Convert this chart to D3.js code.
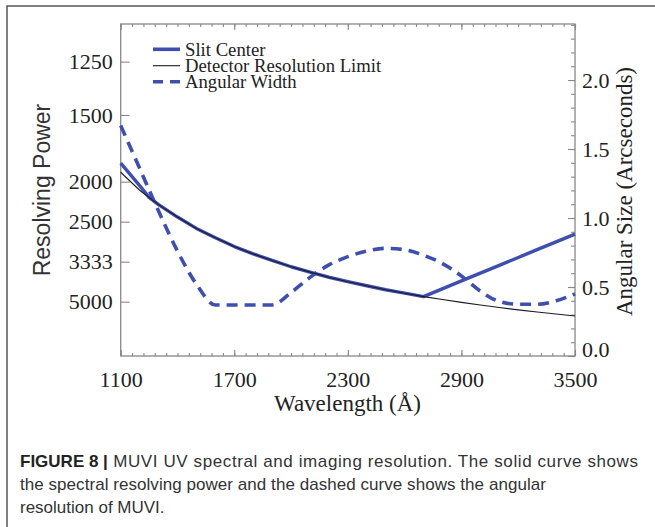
<!DOCTYPE html>
<html><head><meta charset="utf-8">
<script src="https://cdn.jsdelivr.net/npm/d3@7"></script>
<style>
html,body{margin:0;padding:0;background:#fff;}
svg{display:block;}
</style></head><body>
<svg id="c" width="655" height="527"></svg>
<script>
// ---- data ----
const wlTicks = [1100, 1700, 2300, 2900, 3500];
const rpTicks = [1250, 1500, 2000, 2500, 3333, 5000];
const angTicks = [0.0, 0.5, 1.0, 1.5, 2.0];

const detWl = [1100,1200,1300,1400,1500,1600,1700,1800,1900,2000,2100,2200,2300,2400,2500,2600,2700,2800,2900,3000,3100,3200,3300,3400,3500];
const detR  = [1910,2090,2260,2430,2610,2780,2960,3130,3300,3480,3650,3830,4000,4170,4350,4520,4700,4870,5040,5220,5390,5570,5740,5910,6090];

const slitWl = [1100,1200,1250,1300,1400,1500,1600,1700,1800,1900,2000,2100,2200,2300,2400,2500,2600,2700,2900,3100,3300,3500];
const slitR  = [1830,2040,2170,2260,2430,2610,2780,2960,3130,3300,3480,3650,3830,4000,4170,4350,4520,4700,3970,3440,3030,2710];

const angWl  = [1100,1200,1300,1400,1500,1600,1700,1800,1900,2000,2100,2200,2300,2400,2500,2600,2700,2800,2900,3000,3100,3200,3300,3400,3500];
const angVal = [1.67,1.36,1.05,0.76,0.52,0.37,0.37,0.37,0.37,0.46,0.57,0.66,0.72,0.76,0.78,0.77,0.73,0.67,0.58,0.47,0.395,0.375,0.375,0.40,0.45];

const legendLabels = ["Slit Center", "Detector Resolution Limit", "Angular Width"];
const captionBold = "FIGURE 8 |";
const captionLines = [
  " MUVI UV spectral and imaging resolution. The solid curve shows",
  "the spectral resolving power and the dashed curve shows the angular",
  "resolution of MUVI."
];

// ---- layout ----
const svg = d3.select("#c");
const L = 120.7, R = 575, T = 24, B = 356;
const BLUE = "#3e4fae";
const SERIF = "'Liberation Serif','Times New Roman',serif";
const SANS = "'Liberation Sans',Arial,sans-serif";

const x = d3.scaleLinear().domain([1100, 3500]).range([L, R]);
const yInv = d3.scaleLinear().domain([0.0000643, 0.000894]).range([B, T]); // 1/R
const yR = r => yInv(1 / r);
const yA = d3.scaleLinear().domain([0, 2.406]).range([B, T]);

// outer frame
svg.append("path").attr("d", "M7,527V6H655").attr("fill", "none")
  .attr("stroke", "#555").attr("stroke-width", 1.5);

// axes
function styleAxis(g) {
  g.select(".domain").remove();
  g.selectAll(".tick line").attr("stroke", "#888").attr("stroke-width", 1.1);
  g.selectAll(".tick text").attr("fill", "#222").style("font-family", SERIF).style("font-size", "22px");
}
const minorWl = d3.range(1100, 3501, 60);
const minorAng = d3.range(0, 24.1, 1).map(d => d / 10);

svg.append("g").attr("transform", `translate(0,${B})`)
  .call(d3.axisBottom(x).tickValues(minorWl).tickSize(-3).tickFormat("")).call(styleAxis);
svg.append("g").attr("transform", `translate(0,${B})`)
  .call(d3.axisBottom(x).tickValues(wlTicks).tickSize(-6).tickPadding(15).tickFormat(d3.format("d"))).call(styleAxis);
svg.append("g").attr("transform", `translate(0,${T})`)
  .call(d3.axisTop(x).tickValues(minorWl).tickSize(-3).tickFormat("")).call(styleAxis);
svg.append("g").attr("transform", `translate(0,${T})`)
  .call(d3.axisTop(x).tickValues(wlTicks).tickSize(-6).tickFormat("")).call(styleAxis);

svg.append("g").attr("transform", `translate(${L},0)`)
  .call(d3.axisLeft(yInv).tickValues(rpTicks.map(r => 1 / r)).tickSize(-9).tickPadding(8)
    .tickFormat((d, i) => rpTicks[i])).call(styleAxis);

svg.append("g").attr("transform", `translate(${R},0)`)
  .call(d3.axisRight(yA).tickValues(minorAng).tickSize(-4).tickFormat("")).call(styleAxis);
const ra = svg.append("g").attr("transform", `translate(${R},0)`)
  .call(d3.axisRight(yA).tickValues(angTicks).tickSize(-7).tickPadding(7).tickFormat(d3.format(".1f"))).call(styleAxis);
ra.selectAll(".tick text").filter(d => d === 0).attr("dy", "0em");

// plot frame
svg.append("rect").attr("x", L).attr("y", T).attr("width", R - L).attr("height", B - T)
  .attr("fill", "none").attr("stroke", "#888").attr("stroke-width", 1.3);

// curves
const slitLine = d3.line().x((d, i) => x(slitWl[i])).y(d => yR(d));
const detLine = d3.line().x((d, i) => x(detWl[i])).y(d => yR(d));
const angLine = d3.line().x((d, i) => x(angWl[i])).y(d => yA(d)).curve(d3.curveMonotoneX);

svg.append("path").attr("d", angLine(angVal)).attr("fill", "none").attr("stroke", BLUE)
  .attr("stroke-width", 3.6).attr("stroke-dasharray", "11,7");
svg.append("path").attr("d", slitLine(slitR)).attr("fill", "none").attr("stroke", BLUE)
  .attr("stroke-width", 3.4).attr("stroke-linejoin", "round");
svg.append("path").attr("d", detLine(detR)).attr("fill", "none").attr("stroke", "#1a1a2a")
  .attr("stroke-width", 1.1);

// legend
const lg = svg.append("g");
const legY = [49.3, 65.7, 81.7];
lg.append("line").attr("x1", 153).attr("x2", 180).attr("y1", legY[0]).attr("y2", legY[0])
  .attr("stroke", BLUE).attr("stroke-width", 3.6);
lg.append("line").attr("x1", 153).attr("x2", 180).attr("y1", legY[1]).attr("y2", legY[1])
  .attr("stroke", "#1a1a2a").attr("stroke-width", 1.1);
lg.append("line").attr("x1", 153).attr("x2", 180).attr("y1", legY[2]).attr("y2", legY[2])
  .attr("stroke", BLUE).attr("stroke-width", 3.6).attr("stroke-dasharray", "10,7");
legendLabels.forEach((t, i) => {
  lg.append("text").attr("x", 185).attr("y", legY[i] + 6.4).text(t)
    .attr("fill", "#222").style("font-family", SERIF).style("font-size", "18.7px");
});

// axis titles
svg.append("text").attr("x", 347.5).attr("y", 411).attr("text-anchor", "middle")
  .text("Wavelength (Å)").attr("fill", "#222").style("font-family", SERIF).style("font-size", "23px");
svg.append("text").attr("transform", "translate(50,190) rotate(-90)").attr("text-anchor", "middle")
  .text("Resolving Power").attr("fill", "#333").style("font-family", SANS).style("font-size", "23px");
svg.append("text").attr("transform", "translate(632,191.5) rotate(-90)").attr("text-anchor", "middle")
  .text("Angular Size (Arcseconds)").attr("fill", "#222").style("font-family", SERIF).style("font-size", "23px");

// caption
const capY = [467, 490, 513];
const capSpacing = ["0.6px", "0.05px", "0px"];
captionLines.forEach((t, i) => {
  const tx = svg.append("text").attr("x", 20).attr("y", capY[i]).attr("fill", "#333")
    .style("font-family", SANS).style("font-size", "17px");
  if (i === 0) tx.append("tspan").attr("font-weight", "bold").attr("fill", "#222").text(captionBold);
  tx.append("tspan").style("letter-spacing", capSpacing[i]).text(t);
});
</script>
</body></html>
